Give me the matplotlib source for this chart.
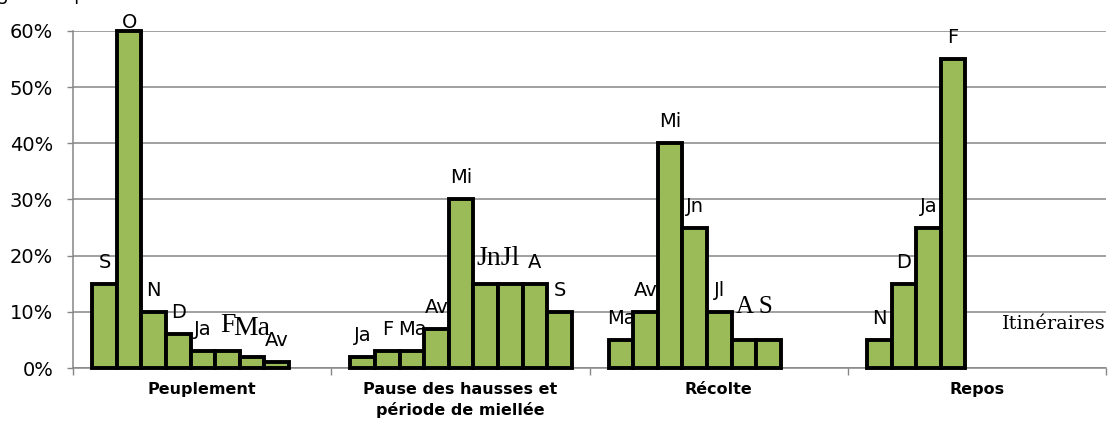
import numpy as np
import matplotlib
matplotlib.use("Agg")
import matplotlib.pyplot as plt

# Itinéraires (categories) and month shares per category
categories = ["Peuplement", "Pause des hausses et\npériode de miellée", "Récolte", "Repos"]
months = [
    ["S", "O", "N", "D", "Ja", "F", "Ma", "Av"],
    ["Ja", "F", "Ma", "Av", "Mi", "Jn", "Jl", "A", "S"],
    ["Ma", "Av", "Mi", "Jn", "Jl", "A", "S"],
    ["N", "D", "Ja", "F"],
]
values = [
    [0.15, 0.60, 0.10, 0.06, 0.03, 0.03, 0.02, 0.01],
    [0.02, 0.03, 0.03, 0.07, 0.30, 0.15, 0.15, 0.15, 0.10],
    [0.05, 0.10, 0.40, 0.25, 0.10, 0.05, 0.05],
    [0.05, 0.15, 0.25, 0.55],
]
yticks = [0, 0.1, 0.2, 0.3, 0.4, 0.5, 0.6]
ytick_labels = ["0%", "10%", "20%", "30%", "40%", "50%", "60%"]

# labels typed by hand in a serif font in the original: (category, first bar, last bar, text, size, gap px, shift px)
serif_labels = [
    (0, 5, 5, "F", 20, 19, 0),
    (0, 6, 6, "Ma", 20, 22, 0),
    (1, 5, 6, "JnJl", 20, 19, 0),
    (2, 5, 6, "A S", 18, 27, -2),
]
serif_skip = {(0, 5), (0, 6), (1, 5), (1, 6), (2, 5), (2, 6)}

green = "#9BBB59"
grid_gray = "#868686"
px = 0.72  # points per pixel at dpi 100

fig = plt.figure(figsize=(11.09, 4.21), dpi=100)
ax = fig.add_axes([73 / 1109, 53 / 421, 1033 / 1109, 337 / 421])

slot = 0.0952
offset = 0.0745

for c, (ms, vs) in enumerate(zip(months, values)):
    xs = c + offset + slot * (np.arange(len(vs)) + 0.5)
    ax.bar(xs, vs, width=slot, color=green, edgecolor="black", linewidth=2.8,
           zorder=3, clip_on=False)
    for i, (m, v) in enumerate(zip(ms, vs)):
        if (c, i) in serif_skip:
            continue
        gap = 16 if v < 0.59 else 3
        ax.annotate(m, (xs[i], v), xytext=(0, gap * px), textcoords="offset points",
                    ha="center", va="baseline", fontsize=14, family="DejaVu Sans",
                    annotation_clip=False)

for c, i0, i1, txt, size, gap, shift in serif_labels:
    x0 = c + offset + slot * (i0 + 0.5)
    x1 = c + offset + slot * (i1 + 0.5)
    ax.annotate(txt, ((x0 + x1) / 2, values[c][i0]), xytext=(shift * px, gap * px),
                textcoords="offset points", ha="center", va="baseline",
                fontsize=size, family="Liberation Serif", annotation_clip=False)

ax.set_xlim(0, 4)
ax.set_ylim(0, 0.6)
ax.set_yticks(yticks)
ax.set_yticklabels(ytick_labels, fontsize=14)
ax.tick_params(axis="y", length=4.3, width=1, color=grid_gray, pad=10)
ax.set_xticks(np.arange(0, 5))
ax.set_xticklabels([])
ax.tick_params(axis="x", length=5, width=1, color=grid_gray)
ax.grid(axis="y", color=grid_gray, linewidth=1.1, zorder=0)
ax.set_axisbelow(True)
for side in ["top", "right"]:
    ax.spines[side].set_visible(False)
for side in ["left", "bottom"]:
    ax.spines[side].set_color(grid_gray)
    ax.spines[side].set_linewidth(1.1)

for c, name in enumerate(categories):
    ax.text(c + 0.5, -0.042, name, transform=ax.get_xaxis_transform(), ha="center",
            va="top", fontsize=11.5, fontweight="bold", linespacing=1.4)

ax.text(1, 0.117, "Itinéraires", transform=ax.transAxes, ha="right", va="baseline",
        fontsize=14, family="DejaVu Serif", clip_on=False)

fig.text(-93 / 1109, 1.0, "Pourcentage des apiculteurs", ha="left", va="baseline",
         fontsize=13)

fig.savefig("out.png", dpi=100)
